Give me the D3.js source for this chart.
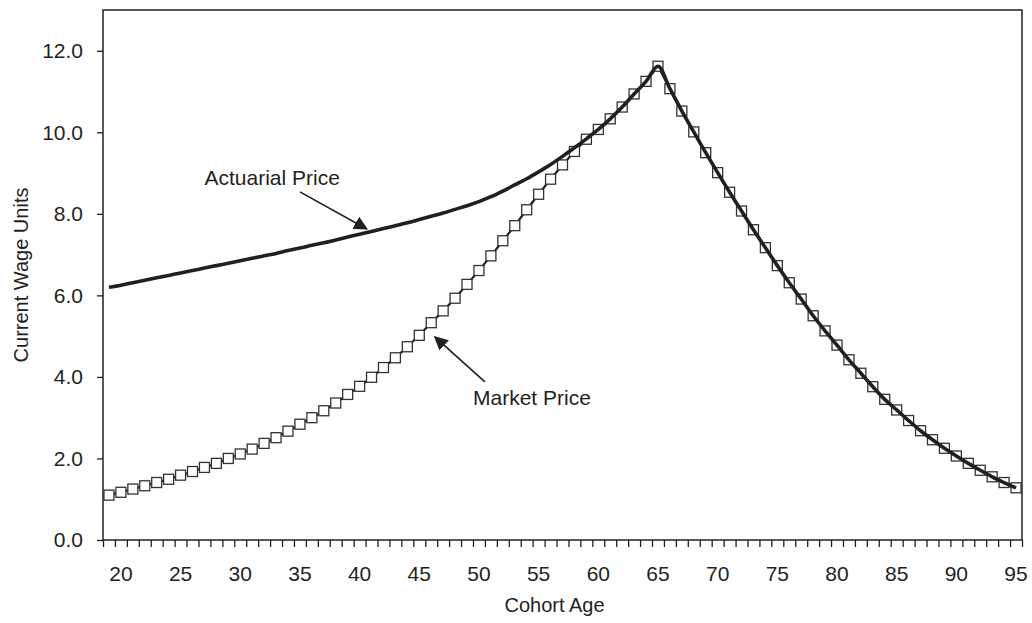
<!DOCTYPE html>
<meta charset="utf-8">

<!-- Load d3.js -->
<script src="https://d3js.org/d3.v7.min.js"></script>

<div id="my_dataviz"></div>

<script>
    // ages on the x axis, one category per year
    const ages = d3.range(19, 96);

    // market price
    const marketPrice = [
      1.10, 1.17, 1.25, 1.33, 1.41, 1.49, 1.59, 1.68, 1.78, 1.88,   // 19-28
      2.00, 2.11, 2.23, 2.37, 2.51, 2.67, 2.84, 3.00, 3.17, 3.36,   // 29-38
      3.57, 3.77, 3.99, 4.23, 4.47, 4.74, 5.02, 5.33, 5.62, 5.93,   // 39-48
      6.27, 6.61, 6.97, 7.34, 7.71, 8.10, 8.48, 8.85, 9.20, 9.53,   // 49-58
      9.83, 10.07, 10.33, 10.62, 10.94, 11.25, 11.62, 11.07, 10.52, 10.01, // 59-68
      9.50, 9.01, 8.53, 8.07, 7.61, 7.17, 6.73, 6.31, 5.91, 5.50,   // 69-78
      5.13, 4.78, 4.42, 4.09, 3.76, 3.45, 3.19, 2.93, 2.68, 2.46,   // 79-88
      2.25, 2.06, 1.88, 1.71, 1.55, 1.41, 1.28                      // 89-95
    ];

    // actuarial price, runs into the market price from age 60 on
    const actuarialPrice = [
      6.20, 6.25, 6.31, 6.37, 6.43, 6.49, 6.55, 6.61, 6.67, 6.73,   // 19-28
      6.79, 6.85, 6.91, 6.97, 7.03, 7.10, 7.16, 7.23, 7.29, 7.36,   // 29-38
      7.43, 7.50, 7.57, 7.64, 7.71, 7.78, 7.86, 7.94, 8.02, 8.11,   // 39-48
      8.20, 8.30, 8.42, 8.56, 8.71, 8.86, 9.03, 9.21, 9.41, 9.62,   // 49-58
      9.84, 10.07, 10.33, 10.62, 10.94, 11.25, 11.62, 11.07, 10.52, 10.01, // 59-68
      9.50, 9.01, 8.53, 8.07, 7.61, 7.17, 6.73, 6.31, 5.91, 5.50,   // 69-78
      5.13, 4.78, 4.42, 4.09, 3.76, 3.45, 3.19, 2.93, 2.68, 2.46,   // 79-88
      2.25, 2.06, 1.88, 1.71, 1.55, 1.41, 1.28                      // 89-95
    ];

    const yTicks = [0, 2, 4, 6, 8, 10, 12];
    const xLabels = [20, 25, 30, 35, 40, 45, 50, 55, 60, 65, 70, 75, 80, 85, 90, 95];

    // annotations: label, text anchor point and arrow, in data units (age, value)
    const notes = [
      {label: "Actuarial Price", tx: 27.0, ty: 8.71, from: [35.0, 8.54], to: [40.6, 7.63]},
      {label: "Market Price", tx: 49.5, ty: 3.31, from: [50.5, 3.88], to: [46.3, 4.98]}
    ];

    const margin = {top: 10, right: 10, bottom: 83, left: 103},
        width = 1032 - margin.left - margin.right,
        height = 623 - margin.top - margin.bottom;

    const svg = d3.select("#my_dataviz")
      .append("svg")
        .attr("width", width + margin.left + margin.right)
        .attr("height", height + margin.top + margin.bottom)
        .style("font-family", "'Liberation Sans', Arial, sans-serif")
      .append("g")
        .attr("transform", `translate(${margin.left}, ${margin.top})`);

    const ink = "#231f20";

    const x = d3.scaleLinear()
        .domain([18.5, 95.5])
        .range([0, width]);

    const y = d3.scaleLinear()
        .domain([0, 13])
        .range([height, 0]);

    // y axis
    const yAxis = svg.append("g")
        .call(d3.axisLeft(y).tickValues(yTicks).tickSize(6).tickPadding(14).tickFormat(d3.format(".1f")));
    yAxis.select(".domain").remove();
    yAxis.selectAll("line").attr("stroke", ink).attr("stroke-width", 1.3);
    yAxis.selectAll("text").style("font-size", "21px").attr("fill", ink);

    // x axis: a tick at every category boundary, labels every 5 years
    const xAxis = svg.append("g")
        .attr("transform", `translate(0, ${height})`)
        .call(d3.axisBottom(x).tickValues(d3.range(18.5, 96, 1)).tickSize(7).tickFormat(""));
    xAxis.select(".domain").remove();
    xAxis.selectAll("line").attr("stroke", ink).attr("stroke-width", 1.3);

    svg.append("g")
      .selectAll("text")
      .data(xLabels)
      .join("text")
        .attr("x", d => x(d))
        .attr("y", height + 41)
        .attr("text-anchor", "middle")
        .attr("fill", ink)
        .style("font-size", "21px")
        .text(d => d);

    // plot frame
    svg.append("rect")
        .attr("width", width)
        .attr("height", height)
        .attr("fill", "none")
        .attr("stroke", ink)
        .attr("stroke-width", 1.5);

    // axis titles
    svg.append("text")
        .attr("x", width / 2 - 8)
        .attr("y", height + 72)
        .attr("text-anchor", "middle")
        .attr("fill", ink)
        .style("font-size", "20px")
        .text("Cohort Age");

    svg.append("text")
        .attr("transform", `translate(${-margin.left + 28}, ${height / 2}) rotate(-90)`)
        .attr("text-anchor", "middle")
        .attr("fill", ink)
        .style("font-size", "20px")
        .text("Current Wage Units");

    const market = ages.map((a, i) => ({age: a, v: marketPrice[i]}));
    const actuarial = ages.map((a, i) => ({age: a, v: actuarialPrice[i]}));

    const line = d3.line()
        .x(d => x(d.age))
        .y(d => y(d.v));

    svg.append("path")
        .datum(market)
        .attr("fill", "none")
        .attr("stroke", ink)
        .attr("stroke-width", 2.2)
        .attr("d", line);

    const ms = 10;
    svg.selectAll("rect.mk")
      .data(market)
      .join("rect")
        .attr("class", "mk")
        .attr("x", d => x(d.age) - ms / 2)
        .attr("y", d => y(d.v) - ms / 2)
        .attr("width", ms)
        .attr("height", ms)
        .attr("fill", "white")
        .attr("stroke", "#333")
        .attr("stroke-width", 1.3);

    svg.append("path")
        .datum(actuarial)
        .attr("fill", "none")
        .attr("stroke", ink)
        .attr("stroke-width", 3.6)
        .attr("stroke-linejoin", "round")
        .attr("d", line.curve(d3.curveMonotoneX));

    // arrowhead
    svg.append("defs").append("marker")
        .attr("id", "arrow")
        .attr("viewBox", "0 0 10 10")
        .attr("refX", 9)
        .attr("refY", 5)
        .attr("markerWidth", 14)
        .attr("markerHeight", 14)
        .attr("markerUnits", "userSpaceOnUse")
        .attr("orient", "auto")
      .append("path")
        .attr("d", "M0,0L10,5L0,10Z")
        .attr("fill", ink);

    svg.selectAll("line.note")
      .data(notes)
      .join("line")
        .attr("class", "note")
        .attr("x1", d => x(d.from[0]))
        .attr("y1", d => y(d.from[1]))
        .attr("x2", d => x(d.to[0]))
        .attr("y2", d => y(d.to[1]))
        .attr("stroke", ink)
        .attr("stroke-width", 1.6)
        .attr("marker-end", "url(#arrow)");

    svg.selectAll("text.note")
      .data(notes)
      .join("text")
        .attr("class", "note")
        .attr("x", d => x(d.tx))
        .attr("y", d => y(d.ty))
        .attr("fill", ink)
        .style("font-size", "21px")
        .text(d => d.label);
</script>

<style>
  body { margin: 0; background: white; }
  #my_dataviz { margin: 0; }
</style>
